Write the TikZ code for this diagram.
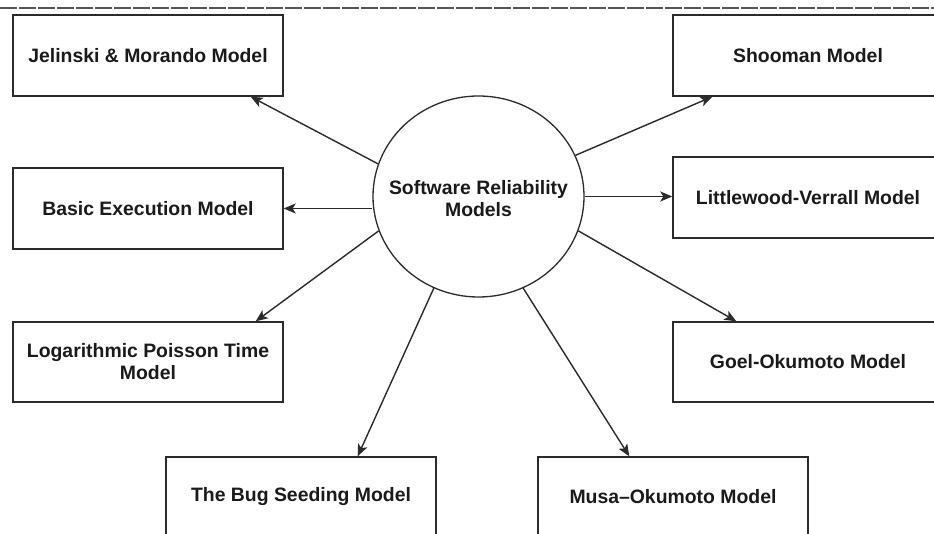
\documentclass[tikz,border=0pt]{standalone}
\usepackage{fontspec}
\setmainfont{Liberation Sans}
\usetikzlibrary{shapes.geometric,arrows.meta,calc}

\definecolor{inkline}{HTML}{2B2B2B}
\definecolor{inktext}{HTML}{1A1A1A}

\tikzset{
  labelfont/.style={font=\fontsize{19.4}{22}\selectfont\bfseries, text=inktext},
  model/.style={draw=inkline, line width=1.4pt, minimum width=270pt,
    inner sep=0pt, align=center, labelfont},
  hub/.style={ellipse, draw=inkline, line width=1.3pt, minimum width=211pt,
    minimum height=201pt, inner sep=0pt},
  link/.style={draw=inkline, line width=1.4pt,
    -{Stealth[length=12pt,width=10pt,inset=3pt]}},
}

\begin{document}
\begin{tikzpicture}[x=1pt, y=-1pt]
  \useasboundingbox (0,0) rectangle (934,534);
  \clip (0,0) rectangle (934,534);
  \fill[white] (0,0) rectangle (934,534);

  % rule along the top edge
  \draw[inkline!80, line width=1.1pt, dash pattern=on 17pt off 2pt] (0,8) -- (934,8);

  % central topic: outline and its caption
  \node[hub] (srm) at (478.5,196.5) {};
  \node[labelfont, align=center, inner sep=0pt] (srmtext) at (478.5,199) {Software Reliability\\Models};

  % left column
  \node[model, minimum height=81pt] (jm) at (148,55.5) {Jelinski \& Morando Model};
  \node[model, minimum height=81pt] (be) at (148,208.5) {Basic Execution Model};
  \node[model, minimum height=80pt] (lp) at (148,362) {Logarithmic Poisson Time\\Model};

  % right column
  \node[model, minimum height=81pt] (sh) at (808,55.5) {Shooman Model};
  \node[model, minimum height=81pt] (lv) at (808,197.5) {Littlewood-Verrall Model};
  \node[model, minimum height=80pt] (go) at (808,362) {Goel-Okumoto Model};

  % bottom row
  \node[model, minimum height=80pt] (bs) at (301,497) {The Bug Seeding Model};
  \node[model, minimum height=80pt] (mo) at (673,497) {Musa–Okumoto Model};

  % connectors
  \draw[link] (srm.162.8) -- ($(jm.south east)+(-33,0)$);
  \draw[link] (be.east -| srm.west) -- (be.east);
  \draw[link] (srm.199.3) -- ($(lp.north east)+(-28,0)$);
  \draw[link] (srm.244.5) -- ($(bs.north east)+(-79,0)$);
  \draw[link] (srm.23.8) -- ($(sh.south west)+(40,0)$);
  \draw[link] (srm.east) -- (srm.east -| lv.west);
  \draw[link] (srm.341.7) -- ($(go.north west)+(64,0)$);
  \draw[link] (srm.296.9) -- ($(mo.north west)+(92,0)$);
\end{tikzpicture}
\end{document}
